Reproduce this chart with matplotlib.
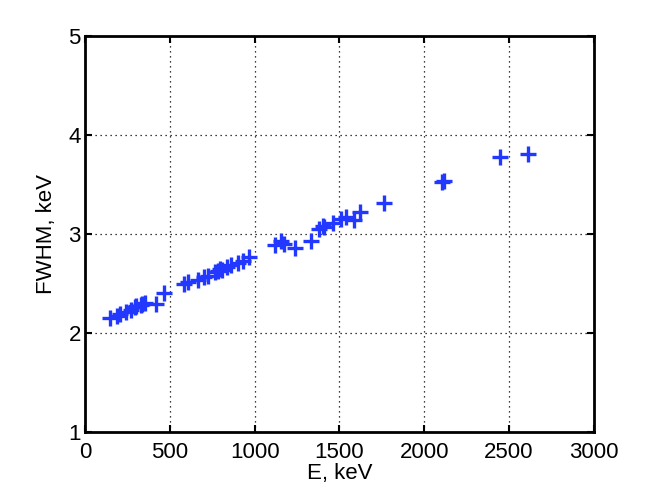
import matplotlib
matplotlib.use("Agg")
import matplotlib.pyplot as plt

energy_kev = [145, 186, 209, 239, 270, 295, 300, 328, 338, 352, 418, 463,
              583, 609, 665, 703, 727, 768, 785, 795, 806, 835, 860, 904,
              934, 969, 1120, 1155, 1173, 1238, 1332, 1377, 1401, 1408,
              1460, 1509, 1540, 1588, 1620, 1764, 2104, 2118, 2448, 2614]
fwhm_kev = [2.15, 2.17, 2.19, 2.21, 2.23, 2.26, 2.27, 2.28, 2.29, 2.30, 2.29, 2.40,
            2.49, 2.51, 2.53, 2.57, 2.58, 2.62, 2.63, 2.65, 2.64, 2.67, 2.69, 2.71,
            2.73, 2.77, 2.89, 2.93, 2.90, 2.86, 2.93, 3.05, 3.08, 3.07,
            3.11, 3.15, 3.17, 3.14, 3.22, 3.31, 3.52, 3.53, 3.78, 3.81]

x_ticks = [0, 500, 1000, 1500, 2000, 2500, 3000]
y_ticks = [1, 2, 3, 4, 5]

plt.rcParams['font.family'] = ['Liberation Sans', 'DejaVu Sans']

fig = plt.figure(figsize=(6.54, 4.92), dpi=100)
ax = fig.add_axes([0.13, 0.122, 0.778, 0.805])
ax.plot(energy_kev, fwhm_kev, linestyle='none', marker='+', markersize=12,
        markeredgewidth=2.4, color='#2238ff')
ax.set_xlim(0, 3000)
ax.set_ylim(1, 5)
ax.set_xticks(x_ticks)
ax.set_yticks(y_ticks)
ax.tick_params(direction='in', top=True, right=True, labelsize=16, width=1.5,
               length=5)
ax.tick_params(axis='x', pad=7)
ax.tick_params(axis='y', pad=3)
for s in ax.spines.values():
    s.set_linewidth(2)
ax.grid(True, color='black', linestyle=(0, (1, 3)), linewidth=0.9)
ax.set_xlabel('E, keV', fontsize=16, labelpad=0)
ax.set_ylabel('FWHM, keV', fontsize=16, labelpad=8)
fig.savefig('out.png', dpi=100)
